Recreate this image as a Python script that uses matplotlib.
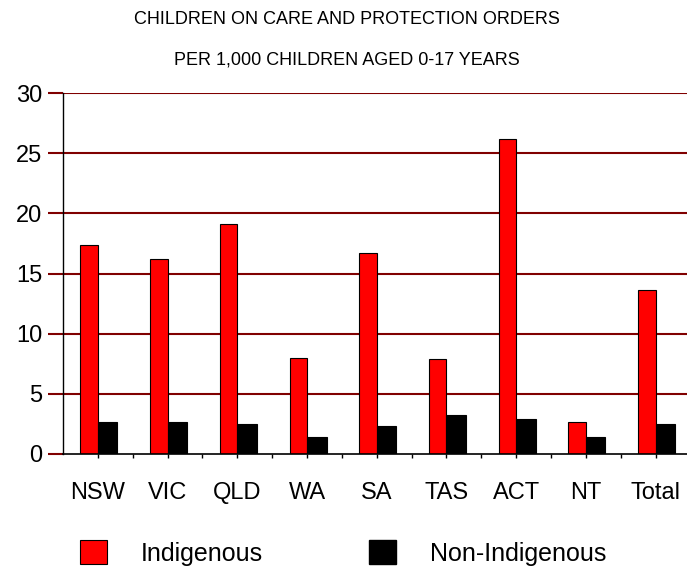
import matplotlib.pyplot as plt
from matplotlib.patches import Patch
import numpy as np

plt.rcParams['font.family'] = ['Liberation Sans', 'DejaVu Sans']

states = ['NSW', 'VIC', 'QLD', 'WA', 'SA', 'TAS', 'ACT', 'NT', 'Total']
indigenous = [17.4, 16.2, 19.1, 8.0, 16.7, 7.9, 26.2, 2.7, 13.6]
non_indigenous = [2.7, 2.7, 2.5, 1.4, 2.3, 3.2, 2.9, 1.4, 2.5]
y_ticks = [0, 5, 10, 15, 20, 25, 30]

RED = '#ff0000'
GRID = '#800000'

fig = plt.figure(figsize=(6.87, 5.68), dpi=100)
ax = fig.add_axes([63 / 687, 1 - 454 / 568, 1 - 63 / 687, (454 - 93) / 568])

x = np.arange(len(states))
ax.bar(x, indigenous, width=-0.25, align='edge', color=RED,
       edgecolor='black', linewidth=0.8, zorder=3)
ax.bar(x, non_indigenous, width=0.28, align='edge', color='black',
       edgecolor='black', linewidth=0.8, zorder=3)

ax.set_xlim(-0.5, 8.45)
ax.set_ylim(0, 30)
ax.set_yticks(y_ticks)
ax.set_xticks(x)
ax.set_xticklabels(states)
ax.set_xticks(x[:-1] + 0.5, minor=True)

for y in y_ticks[1:]:
    ax.axhline(y, color=GRID, linewidth=1.5, zorder=1)

ax.tick_params(axis='y', labelsize=17, length=11, width=1.5, color=GRID, pad=4)
ax.tick_params(axis='x', which='major', labelsize=17, length=3, width=1, pad=17)
ax.tick_params(axis='x', which='minor', length=3, width=1)

for side in ['top', 'right']:
    ax.spines[side].set_visible(False)
ax.spines['left'].set_linewidth(1)
ax.spines['bottom'].set_linewidth(1.2)
ax.spines['left'].set_zorder(4)
ax.spines['bottom'].set_zorder(4)

fig.text(0.505, 1 - 20 / 568, 'CHILDREN ON CARE AND PROTECTION ORDERS',
         ha='center', va='center', fontsize=13)
fig.text(0.505, 1 - 60 / 568, 'PER 1,000 CHILDREN AGED 0-17 YEARS',
         ha='center', va='center', fontsize=13)

handles = [Patch(facecolor=RED, edgecolor='black', linewidth=0.8, label='Indigenous'),
           Patch(facecolor='black', edgecolor='black', label='Non-Indigenous')]
fig.legend(handles=handles, loc='lower left', bbox_to_anchor=(77 / 687, 0.0),
           ncol=2, frameon=False, fontsize=18, handlelength=1.08,
           handleheight=1.08, handletextpad=1.36, columnspacing=4.24,
           borderpad=0.1, borderaxespad=0)

fig.savefig('out.png', dpi=100)
